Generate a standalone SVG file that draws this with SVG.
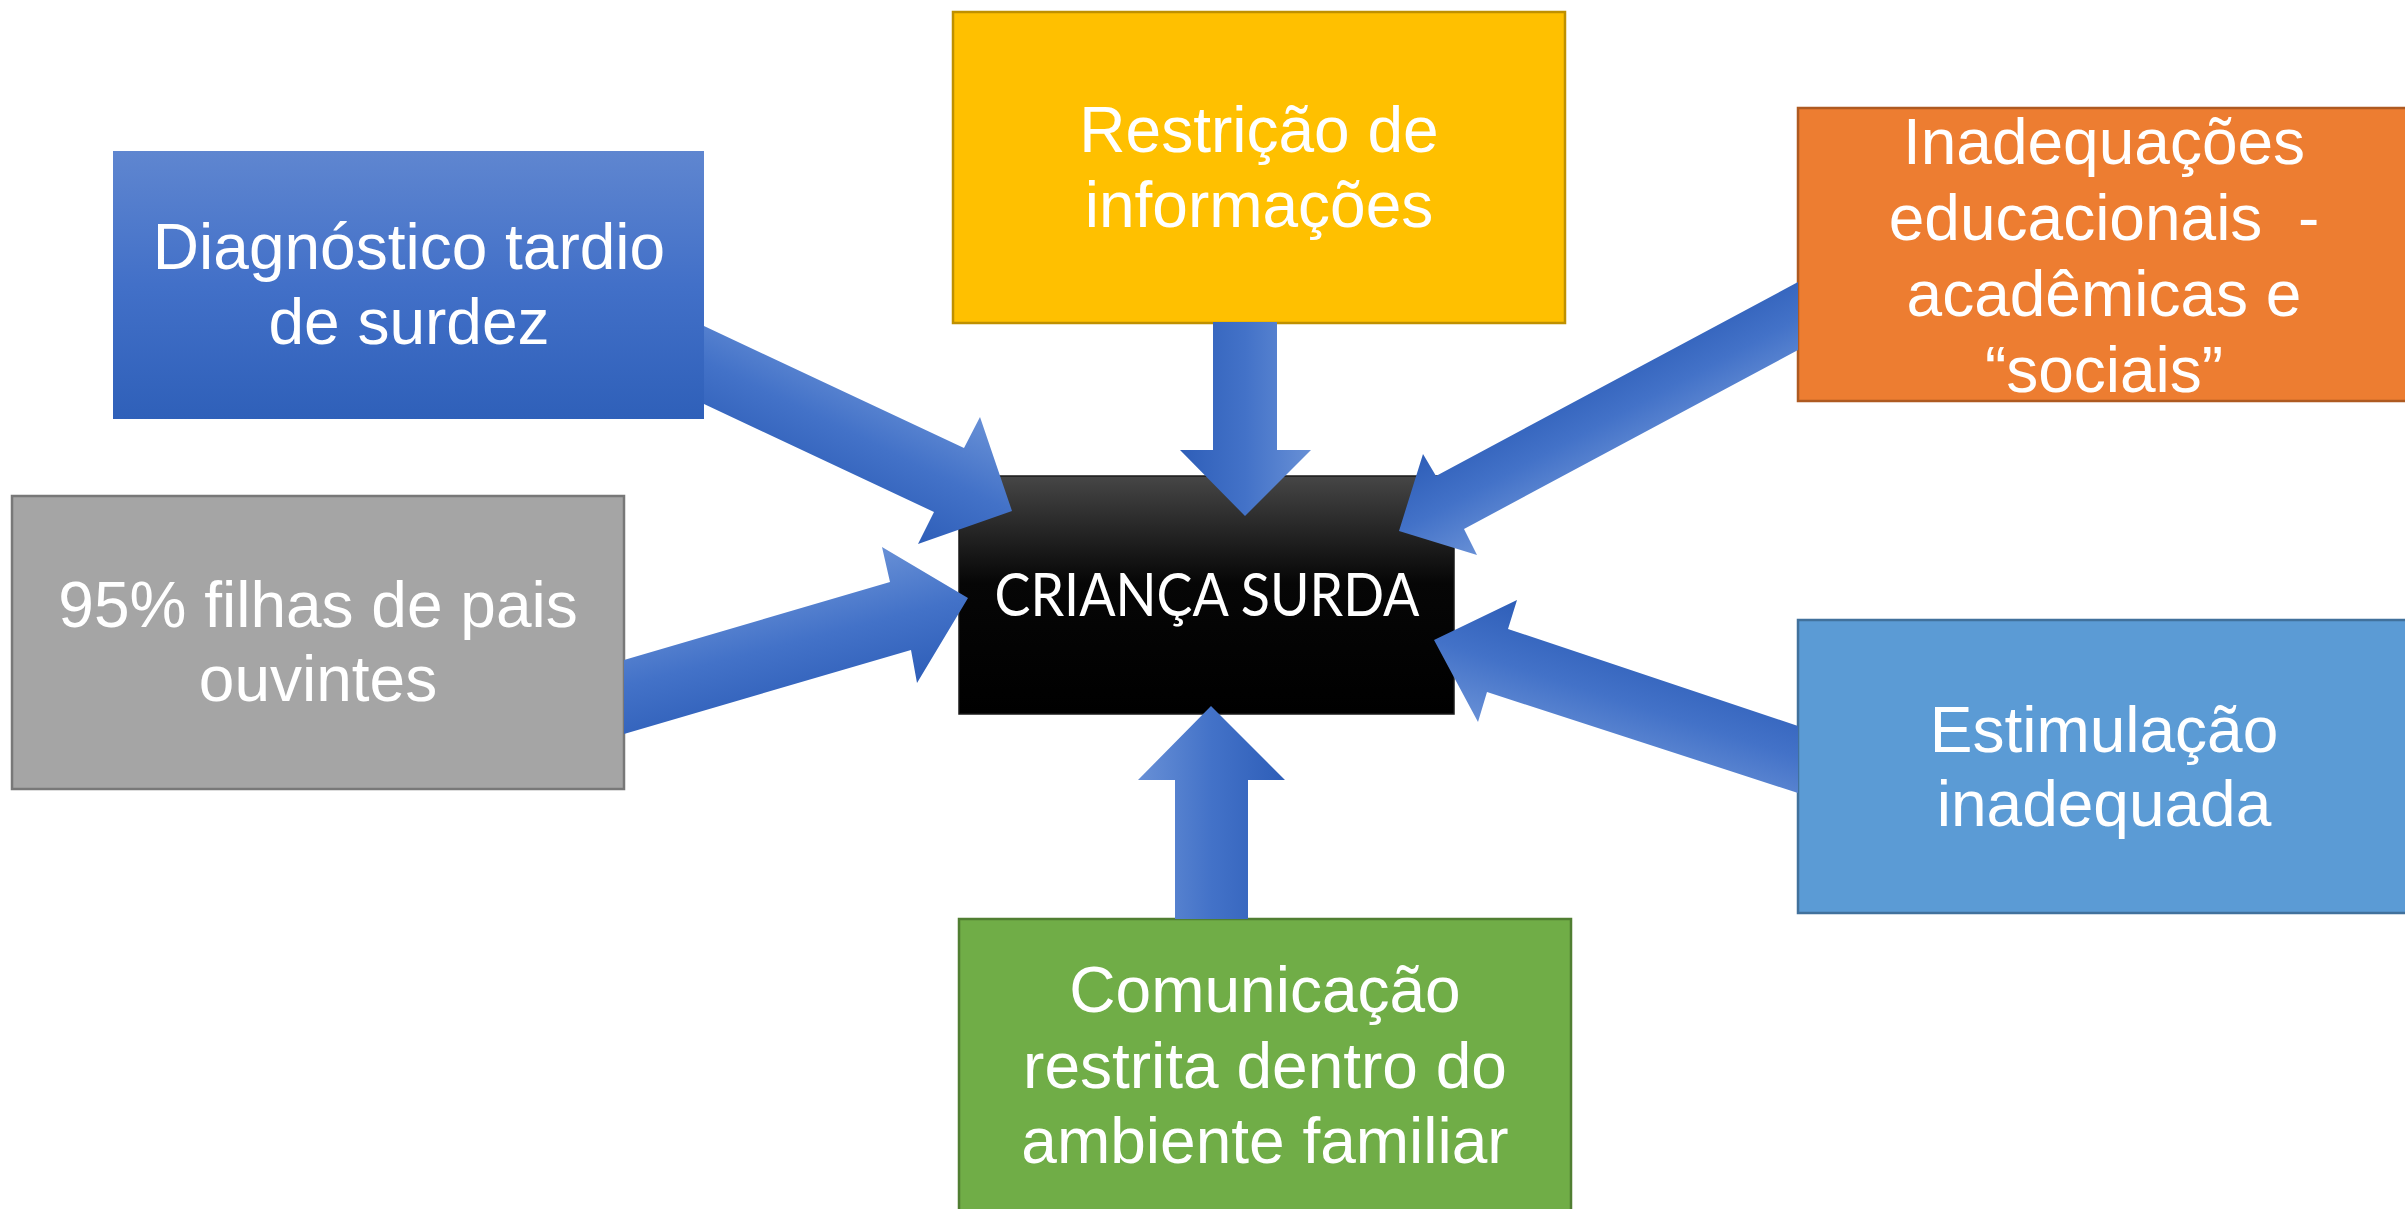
<svg xmlns="http://www.w3.org/2000/svg" width="2405" height="1209" viewBox="0 0 2405 1209">
<defs>
<linearGradient id="gBase" gradientUnits="userSpaceOnUse">
<stop offset="0" stop-color="#6890D6"/>
<stop offset="0.5" stop-color="#4372C8"/>
<stop offset="1" stop-color="#2E5EB8"/>
</linearGradient>
<linearGradient id="gDiag" x1="0" y1="0" x2="0" y2="1">
<stop offset="0" stop-color="#5F86D0"/>
<stop offset="0.5" stop-color="#4270C8"/>
<stop offset="1" stop-color="#2F60B9"/>
</linearGradient>
<linearGradient id="gBlack" x1="0" y1="0" x2="0" y2="1">
<stop offset="0" stop-color="#464646"/>
<stop offset="0.45" stop-color="#060606"/>
<stop offset="1" stop-color="#000000"/>
</linearGradient>
<linearGradient id="a1" href="#gBase" x1="980" y1="417" x2="918" y2="544"/>
<linearGradient id="a2" href="#gBase" x1="882" y1="547" x2="917" y2="683"/>
<linearGradient id="a3" href="#gBase" x1="1311" y1="450" x2="1180" y2="450"/>
<linearGradient id="a4" href="#gBase" x1="1477" y1="555" x2="1423" y2="454"/>
<linearGradient id="a5" href="#gBase" x1="1478" y1="722" x2="1517" y2="600"/>
<linearGradient id="a6" href="#gBase" x1="1138" y1="780" x2="1285" y2="780"/>
</defs>
<style>
.t{font-family:"Liberation Sans",Arial,sans-serif;font-size:64px;fill:#ffffff;text-anchor:middle;}
.c{font-family:Lato,"Open Sans",sans-serif;font-size:60px;fill:#ffffff;text-anchor:middle;}
.box{stroke-width:2.5;}
</style>
<rect width="2405" height="1209" fill="#ffffff"/>

<g id="node-restricao">
<rect class="box" x="953" y="12" width="612" height="311" fill="#FFC000" stroke="#BF9000"/>
<text class="t" x="1259" y="152">Restrição de</text>
<text class="t" x="1259" y="227">informações</text>
</g>

<g id="node-diagnostico">
<rect x="113" y="151" width="591" height="268" fill="url(#gDiag)"/>
<text class="t" x="409" y="269">Diagnóstico tardio</text>
<text class="t" x="409" y="344">de surdez</text>
</g>

<g id="node-filhas">
<rect class="box" x="12" y="496" width="612" height="293" fill="#A5A5A5" stroke="#787878"/>
<text class="t" x="318" y="627">95% filhas de pais</text>
<text class="t" x="318" y="701">ouvintes</text>
</g>

<g id="node-inadequacoes">
<rect class="box" x="1798" y="108" width="612" height="293" fill="#ED7D31" stroke="#AE5A21"/>
<text class="t" x="2104" y="164">Inadequações</text>
<text class="t" x="2104" y="240" xml:space="preserve">educacionais  -</text>
<text class="t" x="2104" y="316">acadêmicas e</text>
<text class="t" x="2104" y="392">“sociais”</text>
</g>

<g id="node-estimulacao">
<rect class="box" x="1798" y="620" width="612" height="293" fill="#5B9BD5" stroke="#41719C"/>
<text class="t" x="2104" y="752">Estimulação</text>
<text class="t" x="2104" y="826">inadequada</text>
</g>

<g id="node-comunicacao">
<rect class="box" x="959" y="919" width="612" height="300" fill="#70AD47" stroke="#507E32"/>
<text class="t" x="1265" y="1012">Comunicação</text>
<text class="t" x="1265" y="1088">restrita dentro do</text>
<text class="t" x="1265" y="1163">ambiente familiar</text>
</g>

<g id="node-crianca">
<rect x="959" y="476" width="495" height="238" fill="url(#gBlack)" stroke="#1a1a1a" stroke-width="1.5"/>
<text class="c" x="1207" y="616" textLength="425" lengthAdjust="spacingAndGlyphs">CRIANÇA SURDA</text>
</g>

<g id="connectors">
<polygon fill="url(#a1)" points="704,326 964,448 980,417 1012,511 918,544 934,512 704,404"/>
<polygon fill="url(#a2)" points="624,660 890,582 882,547 968,598 917,683 911,650 624,734"/>
<polygon fill="url(#a3)" points="1213,322 1277,322 1277,450 1311,450 1245,516 1180,450 1213,450"/>
<polygon fill="url(#a4)" points="1798,282 1436,476 1423,454 1399,531 1477,555 1464,529 1798,350"/>
<polygon fill="url(#a5)" points="1798,726 1508,629 1517,600 1434,640 1478,722 1487,692 1798,793"/>
<polygon fill="url(#a6)" points="1175,919 1175,780 1138,780 1211,706 1285,780 1248,780 1248,919"/>
</g>
</svg>
